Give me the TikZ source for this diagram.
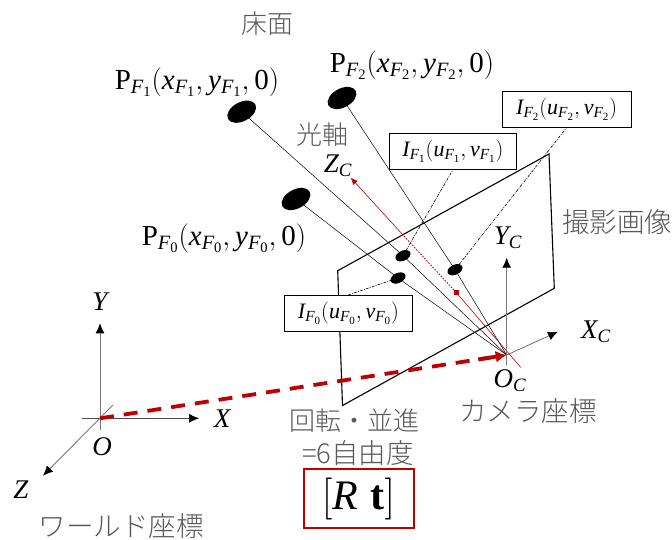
\documentclass[tikz,border=0pt]{standalone}
\usepackage{fix-cm}
\usepackage{mathspec}
\setmathsfont(Digits,Latin){Liberation Serif}
\setmathrm{Liberation Serif}
\usetikzlibrary{shapes.geometric,arrows.meta,calc}
\newfontfamily\cjkjp{Noto Sans CJK JP Light}
\definecolor{txtgray}{RGB}{89,89,89}
\definecolor{axisgray}{RGB}{120,120,120}
\definecolor{redmain}{RGB}{192,0,0}
\newcommand{\fs}[1]{\fontsize{#1}{#1}\selectfont}
\tikzset{
 jp/.style={text=txtgray,font=\cjkjp\fs{26},inner sep=0pt},
 jpl/.style={text=txtgray,font=\cjkjp\fs{27.5},inner sep=0pt},
 mlabel/.style={text=black,font=\fs{27},inner sep=0pt},
 plabel/.style={text=black,font=\fs{29},inner sep=0pt},
 boxlabel/.style={draw=black,line width=0.9pt,fill=white,font=\fs{22},minimum width=127.5pt,minimum height=36pt,inner sep=0pt},
 bigdot/.style={ellipse,fill=black,minimum width=31pt,minimum height=19pt,inner sep=0pt,rotate=28},
 smalldot/.style={ellipse,fill=black,minimum width=16pt,minimum height=10pt,inner sep=0pt,rotate=25},
 ray/.style={line width=0.5pt,black},
 chain/.style={line width=0.6pt,black,dash pattern=on 3pt off 1.2pt on 0.8pt off 1.2pt},
 axis/.style={line width=0.9pt,axisgray,-{Latex[black,length=10pt,width=9pt]}},
 thinaxis/.style={line width=0.6pt,black!70,-{Latex[black,length=10pt,width=9pt]}},
 plane/.style={line width=1.1pt,black},
}
\begin{document}
\begin{tikzpicture}[x=1pt,y=-1pt]
\useasboundingbox (0,0) rectangle (672,539);
% camera image plane
\coordinate (pa) at (337.7,270.7);
\coordinate (pb) at (549,154);
\coordinate (pc) at (554.3,288.3);
\coordinate (pd) at (342.5,405.5);
\draw[plane] (pa) -- (pb) -- (pc) -- (pd) -- cycle;
% points
\coordinate (Oc) at (506.7,355);
\node[bigdot] (B2) at (342,98) {};
\node[bigdot] (B1) at (241.7,111.7) {};
\node[bigdot] (B0) at (296,199) {};
\node[smalldot] (S1) at (403,255.7) {};
\node[smalldot] (S0) at (398,278) {};
\node[smalldot] (S2) at (455,269.7) {};
% rays
\draw[ray] (B2.center) -- (S2.center) -- (Oc);
\draw[ray] (B1.center) -- (S1.center) -- (Oc);
\draw[ray] (B0.center) -- (S0.center) -- (Oc);
% boxes
\node[boxlabel] (I0) at (348.5,313.3) {$I_{F_0}(u_{F_0},v_{F_0})$};
\node[boxlabel] (I1) at (453,151.2) {$I_{F_1}(u_{F_1},v_{F_1})$};
\node[boxlabel,minimum width=128.5pt] (I2) at (566.7,109) {$I_{F_2}(u_{F_2},v_{F_2})$};
\draw[chain] (S0.center) -- (I0.north);
\draw[chain] (S1.center) -- (I1.south);
\draw[chain] (S2.center) -- (I2.south);
% optical axis
\coordinate (Ze) at (520.7,367.3);
\coordinate (Zt) at (350.7,177.7);
\node[fill=redmain,minimum size=5pt,inner sep=0pt] (Q) at (456,292.3) {};
\coordinate (Zm) at (403,235);
\draw[redmain,line width=0.6pt] (Ze) -- (Q.center);
\draw[redmain,line width=0.9pt,dash pattern=on 1.5pt off 1.5pt] (Q.center) -- (Zm);
\draw[redmain,line width=0.6pt,-{Latex[redmain,length=7pt,width=6pt]}] (Zm) -- (Zt);
% camera axes
\coordinate (Yb) at (506.7,365);
\coordinate (Yt) at (506.7,257.7);
\coordinate (Xt) at (558,331.7);
\draw[axis] (Yb) -- (Yt);
\draw[thinaxis] (Oc) -- (Xt);
% world axes
\coordinate (O) at (100,418.3);
\coordinate (Wyb) at (100,430);
\coordinate (Wyt) at (100,323.3);
\coordinate (Wxl) at (81.7,418.3);
\coordinate (Wxr) at (199,418.3);
\coordinate (Wza) at (113,405);
\coordinate (Wzb) at (43,475.7);
\draw[axis] (Wyb) -- (Wyt);
\draw[thinaxis] (Wxl) -- (Wxr);
\draw[axis] (Wza) -- (Wzb);
% translation
\draw[redmain,line width=3.8pt,dash pattern=on 14pt off 10pt] (O) -- ($(O)!0.96!(Oc)$);
\draw[redmain,line width=3.8pt,-{Latex[redmain,length=11pt,width=12pt]}] ($(O)!0.93!(Oc)$) -- (Oc);
% labels
\node[jp] (t1) at (267,24) {床面};
\node[jp] (t2) at (322,135) {光軸};
\node[jpl,anchor=west] (t3) at (562,222) {撮影画像};
\node[jpl] (t4) at (528,411) {カメラ座標};
\node[jpl] (t5) at (121,526) {ワールド座標};
\node[jp] (t6) at (354,421) {回転・並進};
\node[jpl] (t7) at (358,453) {=6自由度};
\node[plabel] (p1) at (197,82) {$\mathrm{P}_{F_1}(x_{F_1},y_{F_1},0)$};
\node[plabel] (p2) at (412,65) {$\mathrm{P}_{F_2}(x_{F_2},y_{F_2},0)$};
\node[plabel] (p0) at (224,238) {$\mathrm{P}_{F_0}(x_{F_0},y_{F_0},0)$};
\node[mlabel] (lz) at (338,166) {$Z_C$};
\node[mlabel] (ly) at (508,238) {$Y_C$};
\node[mlabel] (lx) at (596,332) {$X_C$};
\node[mlabel] (lo) at (510,381) {$O_C$};
\node[mlabel] (wy) at (100,302) {$Y$};
\node[mlabel] (wx) at (222,419) {$X$};
\node[mlabel] (wo) at (102,447) {$O$};
\node[mlabel] (wz) at (21,490) {$Z$};
\node[draw=redmain,line width=2pt,minimum width=110pt,minimum height=59pt,inner sep=0pt,font=\fs{42}] (rt) at (358.5,498.5) {$[R\ \mathbf{t}]$};
\end{tikzpicture}
\end{document}
